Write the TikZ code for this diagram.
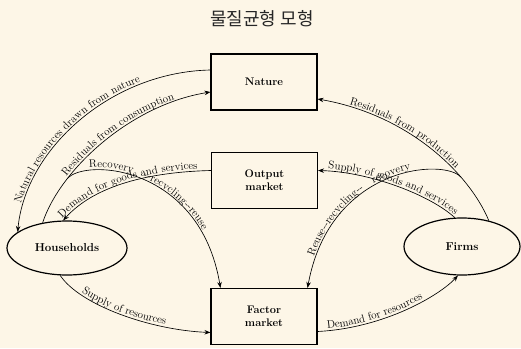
\documentclass[tikz,border=0pt]{standalone}
\usepackage{fontspec}
\newfontfamily\krfont{Noto Sans CJK KR}
\usetikzlibrary{shapes.geometric,arrows.meta,calc,decorations.text}
\definecolor{bgc}{RGB}{253,246,231}
\newcommand\lblfont{\fontsize{11}{12}\selectfont}
\tikzset{
  box/.style={draw, line width=1.1pt, minimum width=106pt, minimum height=56pt, inner sep=0pt, align=center, font=\bfseries\fontsize{11}{13}\selectfont},
  ell/.style={ellipse, draw, line width=1.2pt, inner sep=0pt, font=\bfseries\fontsize{11.5}{13}\selectfont},
  conn/.style={draw, line width=0.65pt, -{Stealth[length=6pt,width=4.5pt]}},
  lbl/.style={decorate, decoration={text along path, raise=2.2pt, text={#1}}},
}
\begin{document}
\begin{tikzpicture}[x=1pt,y=-1pt]
\fill[bgc] (0,0) rectangle (521,348);
\useasboundingbox (0,0) rectangle (521,348);
\node[font=\krfont\fontsize{18}{20}\selectfont, text=black!85] (title) at (262,19) {물질균형 모형};
\node[box] (nat) at (264,82) {Nature};
\node[box] (out) at (264.5,180.5) {Output\\market};
\node[box] (fac) at (264,316.5) {Factor\\market};
\node[ell, minimum width=120pt, minimum height=54pt] (hh) at (67,248) {Households};
\node[ell, minimum width=116pt, minimum height=57pt] (fi) at (462,246.5) {Firms};
% connectors
\draw[conn] ($(nat.west)+(0,-12)$) .. controls (110,72) and (25,150) .. (hh.162);
\draw[conn] (hh.134) .. controls (60,170) and (130,105) .. ($(nat.west)+(0,10)$) coordinate[pos=0.27] (rcs);
\draw[conn] (rcs) .. controls (85,158) and (200,165) .. ($(fac.north west)+(10,0)$);
\draw[conn] ($(out.west)+(0,-10)$) .. controls (150,172) and (95,185) .. (hh.98);
\draw[conn] (fi.44) .. controls (470,175) and (410,115) .. ($(nat.east)+(0,17)$) coordinate[pos=0.3] (rps);
\draw[conn] (rps) .. controls (445,158) and (330,165) .. ($(fac.north east)+(-10,0)$);
\draw[conn] (fi.104) .. controls (430,195) and (370,172) .. ($(out.east)+(0,-10)$);
\draw[conn] (hh.256) .. controls (80,305) and (150,330) .. ($(fac.west)+(0,16)$);
\draw[conn] ($(fac.east)+(0,15)$) .. controls (385,328) and (440,295) .. (fi.262);
% labels
\path[lbl={|\lblfont|Natural resources drawn from nature}, decoration={text align={left indent=28pt}}] (hh.162) .. controls (25,150) and (110,72) .. ($(nat.west)+(0,-12)$);
\path[lbl={|\lblfont|Residuals from consumption}, decoration={text align={left indent=52pt}}] (hh.134) .. controls (60,170) and (130,105) .. ($(nat.west)+(0,10)$);
\path[lbl={|\lblfont|Recovery\ \ \ --recycling--reuse}, decoration={text align={left indent=24pt}}] (rcs) .. controls (85,158) and (200,165) .. ($(fac.north west)+(10,0)$);
\path[lbl={|\lblfont|Demand for goods and services}, decoration={text align={left indent=1pt}}] (hh.98) .. controls (95,185) and (150,172) .. ($(out.west)+(0,-10)$);
\path[lbl={|\lblfont|Residuals from production}, decoration={text align={left indent=32pt}}] ($(nat.east)+(0,17)$) .. controls (410,115) and (470,175) .. (fi.44);
\path[lbl={|\lblfont|Supply of goods and services}, decoration={text align={left indent=10pt}}] ($(out.east)+(0,-10)$) .. controls (370,172) and (430,195) .. (fi.104);
\path[lbl={|\lblfont|Reuse--recycling--\ \ \ recovery}, decoration={text align={left indent=32pt}}] ($(fac.north east)+(-10,0)$) .. controls (330,165) and (445,158) .. (rps);
\path[lbl={|\lblfont|Supply of resources}, decoration={text align={left indent=28pt}}] (hh.256) .. controls (80,305) and (150,330) .. ($(fac.west)+(0,16)$);
\path[lbl={|\lblfont|Demand for resources}, decoration={text align={left indent=10pt}}] ($(fac.east)+(0,15)$) .. controls (385,328) and (440,295) .. (fi.262);
\end{tikzpicture}
\end{document}
